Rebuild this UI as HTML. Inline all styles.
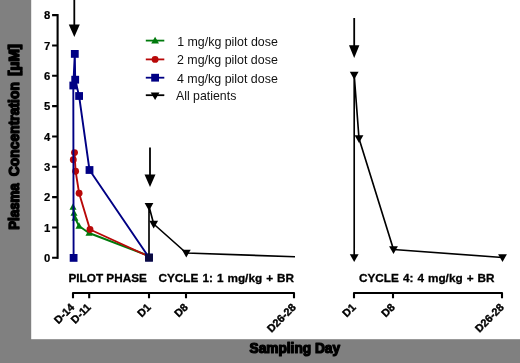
<!DOCTYPE html>
<html><head><meta charset="utf-8"><title>Plasma Concentration</title>
<style>
html,body{margin:0;padding:0;background:#fff;}
body{width:520px;height:363px;overflow:hidden;}
svg{display:block;}
text{font-family:"Liberation Sans",Arial,sans-serif;}
.b{font-weight:bold;}
</style></head><body>
<svg width="520" height="363" viewBox="0 0 520 363">
<g>
<rect x="-20" y="-20" width="560" height="403" fill="#fff"/>
<rect x="-20" y="-20" width="51.2" height="403" fill="#808080"/>
<rect x="-20" y="339.2" width="560" height="44" fill="#808080"/>

<!-- axis titles -->
<g id="ytitle" class="b" font-size="14.3" transform="translate(18.6,0) rotate(-90)" stroke="#000" stroke-width="1.4" stroke-linejoin="round" fill="#000">
<text x="-229.8" y="0" textLength="46.5" lengthAdjust="spacingAndGlyphs">Plasma</text>
<text x="-176.3" y="0" textLength="94.2" lengthAdjust="spacingAndGlyphs">Concentration</text>
<text x="-75.7" y="0" textLength="31.6" lengthAdjust="spacingAndGlyphs">[µM]</text>
</g>
<text id="xtitle" class="b" font-size="13.3" text-anchor="middle" transform="translate(294.8,352.6) scale(1.03,1.04)" stroke="#000" stroke-width="1.2" stroke-linejoin="round" fill="#000">Sampling Day</text>

<!-- y axis -->
<g stroke="#000" stroke-width="2.1" fill="none">
<path d="M57.6 14.05V258.87"/>
<path d="M52.1 15.1H57.6M52.1 45.44H57.6M52.1 75.78H57.6M52.1 106.12H57.6M52.1 136.46H57.6M52.1 166.8H57.6M52.1 197.14H57.6M52.1 227.48H57.6M52.1 257.82H57.6"/>
</g>
<g class="b" font-size="11.3" text-anchor="end" fill="#000" stroke="#000" stroke-width="0.2">
<text x="50.2" y="19.2">8</text><text x="50.2" y="49.54">7</text><text x="50.2" y="79.88">6</text><text x="50.2" y="110.22">5</text><text x="50.2" y="140.56">4</text><text x="50.2" y="170.9">3</text><text x="50.2" y="201.24">2</text><text x="50.2" y="231.58">1</text><text x="50.2" y="261.92">0</text>
</g>

<!-- x axes -->
<g stroke="#000" stroke-width="2.1" fill="none" stroke-linejoin="round">
<path d="M73 298.3V293H294V298.3M89.2 293V298.3M149 293V298.3M186 293V298.3"/>
<path d="M354 298.3V293H502V298.3M393 293V298.3"/>
</g>
<g class="b" font-size="10.8" text-anchor="end" fill="#000" stroke="#000" stroke-width="0.4">
<text transform="translate(75,308) rotate(-45)">D-14</text>
<text transform="translate(91.5,308) rotate(-45)">D-11</text>
<text transform="translate(151.5,308) rotate(-45)">D1</text>
<text transform="translate(188.5,308) rotate(-45)">D8</text>
<text transform="translate(296.5,308) rotate(-45)">D26-28</text>
<text transform="translate(356.5,308) rotate(-45)">D1</text>
<text transform="translate(395.5,308) rotate(-45)">D8</text>
<text transform="translate(504.5,308) rotate(-45)">D26-28</text>
</g>

<!-- phase labels -->
<g class="b" font-size="11.75" fill="#000" word-spacing="0.8" stroke="#000" stroke-width="0.3">
<text id="pl1" x="68.5" y="282" word-spacing="0">PILOT PHASE</text>
<text id="pl2" x="158.5" y="282">CYCLE 1: 1 mg/kg + BR</text>
<text id="pl3" x="359" y="282">CYCLE 4: 4 mg/kg + BR</text>
</g>

<!-- legend -->
<g font-size="12.8" fill="#111">
<text id="lg1" x="177.2" y="45.8" textLength="100.6" lengthAdjust="spacingAndGlyphs">1 mg/kg pilot dose</text>
<text x="177" y="64.4" textLength="100.8" lengthAdjust="spacingAndGlyphs">2 mg/kg pilot dose</text>
<text x="177" y="82.8" textLength="100.8" lengthAdjust="spacingAndGlyphs">4 mg/kg pilot dose</text>
<text x="176" y="100.3" textLength="60.3" lengthAdjust="spacingAndGlyphs">All patients</text>
</g>
<g stroke-width="1.8">
<path d="M145.8 40.6H164.3" stroke="#007a0c"/><g fill="#007a0c"><path d="M155.1 36.66L159 43.46H151.2Z"/></g>
<path d="M145.8 59.4H164.3" stroke="#b80808"/><g fill="#b80808"><circle cx="155.1" cy="59.4" r="3.45"/></g>
<path d="M145.8 77.7H164.3" stroke="#000084"/><g fill="#000084"><rect x="151.2" y="73.8" width="7.8" height="7.8"/></g>
<path d="M145.8 95.2H164.3" stroke="#000"/><g fill="#000"><path d="M155.1 100.01L159.5 92.41H150.7Z"/></g>
</g>

<!-- arrows -->
<g stroke="#000" stroke-width="1.8" fill="#000">
<path d="M74.3 -5V28"/><path d="M74.3 37L68.8 24.5H79.8Z" stroke="none"/>
<path d="M150 147.5V178"/><path d="M150 187L144.5 174.5H155.5Z" stroke="none"/>
<path d="M354.2 18V49"/><path d="M354.2 58L349 45.3H359.4Z" stroke="none"/>
</g>

<!-- green -->
<g stroke="#007a0c" fill="#007a0c">
<polyline points="73,207 74,213 75,218 79,226 89,233 149,256" fill="none" stroke-width="1.9" stroke-linejoin="round"/>
<g stroke="none"><path d="M73 203.29L76.5 209.69H69.5Z"/><path d="M74 209.29L77.5 215.69H70.5Z"/><path d="M75 214.29L78.5 220.69H71.5Z"/><path d="M79 222.29L82.5 228.69H75.5Z"/><path d="M89 229.29L92.5 235.69H85.5Z"/></g>
</g>
<!-- red -->
<g stroke="#b80808" fill="#b80808">
<polyline points="73.3,159.8 74.5,152.6 75.6,171.2 79.1,193.2 90,229.5 149,256.5" fill="none" stroke-width="1.9" stroke-linejoin="round"/>
<g stroke="none"><circle cx="73.3" cy="159.8" r="3.45"/><circle cx="74.5" cy="152.6" r="3.45"/><circle cx="75.6" cy="171.2" r="3.45"/><circle cx="79.1" cy="193.2" r="3.45"/><circle cx="90" cy="229.5" r="3.45"/></g>
</g>
<!-- blue -->
<g stroke="#000084" fill="#000084">
<polyline points="73.6,257.9 73.3,85.5 74.8,53.9 75.2,79.7 79.1,96 89.5,170 149,257.5" fill="none" stroke-width="1.9" stroke-linejoin="round"/>
<g stroke="none"><rect x="69.7" y="254" width="7.8" height="7.8"/><rect x="69.4" y="81.6" width="7.8" height="7.8"/><rect x="70.9" y="50" width="7.8" height="7.8"/><rect x="71.3" y="75.8" width="7.8" height="7.8"/><rect x="75.2" y="92.1" width="7.8" height="7.8"/><rect x="85.6" y="166.1" width="7.8" height="7.8"/><rect x="145.1" y="253.6" width="7.8" height="7.8"/></g>
</g>
<!-- black left -->
<g stroke="#000" fill="#000">
<polyline points="149,257.5 149,206.3 153.7,224 186.3,253 295,256.8" fill="none" stroke-width="1.65" stroke-linejoin="round"/>
<g stroke="none"><path d="M149 210.71L153.4 203.11H144.6Z"/><path d="M153.7 228.41L158.1 220.81H149.3Z"/><path d="M186.3 257.41L190.7 249.81H181.9Z"/><g fill="#0a0a40"><rect x="145.1" y="253.8" width="7.8" height="7.8"/></g></g>
</g>
<!-- black right -->
<g stroke="#000" fill="#000">
<polyline points="354.2,257.5 354.2,75 359,138.5 393.5,249.5 502.5,257.5" fill="none" stroke-width="1.65" stroke-linejoin="round"/>
<g stroke="none"><path d="M354.2 261.91L358.6 254.31H349.8Z"/><path d="M354.2 79.41L358.6 71.81H349.8Z"/><path d="M359 142.91L363.4 135.31H354.6Z"/><path d="M393.5 253.91L397.9 246.31H389.1Z"/><path d="M502.5 261.91L506.9 254.31H498.1Z"/></g>
</g>
</g>
</svg>
</body></html>
